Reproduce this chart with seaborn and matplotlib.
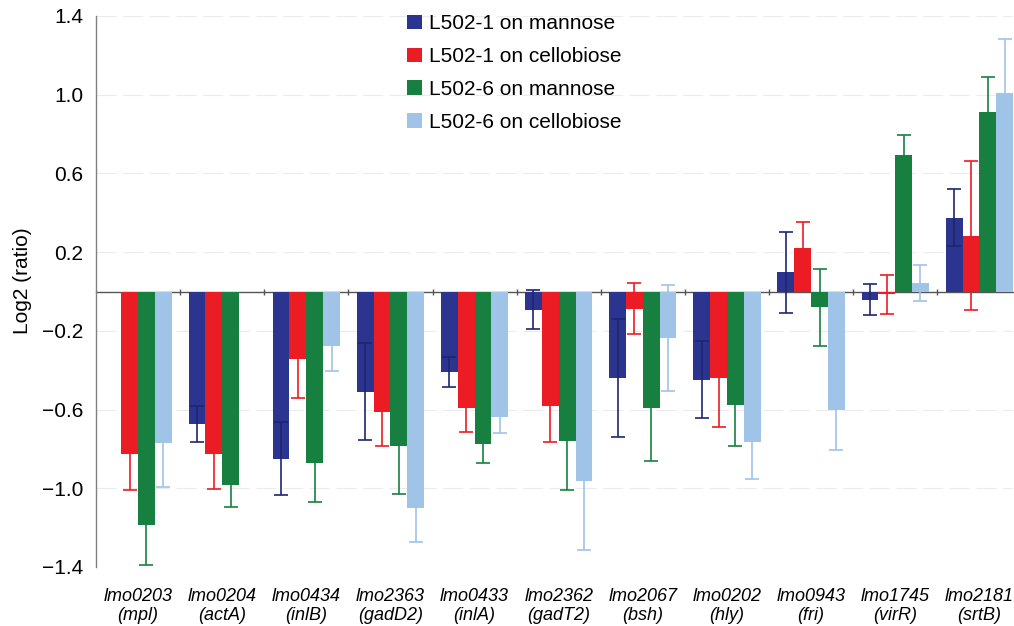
import numpy as np
import pandas as pd
import matplotlib
matplotlib.use('Agg')
import matplotlib.pyplot as plt
import seaborn as sns

# genes and their products (x axis)
genes = ['lmo0203', 'lmo0204', 'lmo0434', 'lmo2363', 'lmo0433', 'lmo2362',
         'lmo2067', 'lmo0202', 'lmo0943', 'lmo1745', 'lmo2181']
products = ['mpl', 'actA', 'inlB', 'gadD2', 'inlA', 'gadT2',
            'bsh', 'hly', 'fri', 'virR', 'srtB']

conditions = ['L502-1 on mannose', 'L502-1 on cellobiose',
              'L502-6 on mannose', 'L502-6 on cellobiose']

# log2 ratios (nan = no bar)
m1 = [np.nan, -0.674, -0.850, -0.509, -0.411, -0.093, -0.441, -0.448, 0.098, -0.042, 0.375]
c1 = [-0.827, -0.827, -0.343, -0.611, -0.591, -0.584, -0.087, -0.441, 0.220, -0.015, 0.284]
m6 = [-1.188, -0.983, -0.872, -0.787, -0.776, -0.759, -0.594, -0.575, -0.080, 0.692, 0.911]
c6 = [-0.772, np.nan, -0.278, -1.098, -0.640, -0.962, -0.238, -0.765, -0.601, 0.044, 1.010]

# error bar half lengths
m1_err = [np.nan, 0.09, 0.185, 0.247, 0.076, 0.10, 0.30, 0.195, 0.205, 0.078, 0.145]
c1_err = [0.18, 0.176, 0.20, 0.173, 0.125, 0.18, 0.13, 0.246, 0.133, 0.10, 0.38]
m6_err = [0.20, 0.11, 0.20, 0.243, 0.093, 0.25, 0.266, 0.21, 0.196, 0.103, 0.18]
c6_err = [0.22, np.nan, 0.125, 0.173, 0.081, 0.35, 0.27, 0.19, 0.205, 0.09, 0.273]

colors = ['#2b3590', '#ec1c24', '#178041', '#a0c4e8']
err_colors = ['#1e2670', '#ec1c24', '#178041', '#a0c4e8']

values = [m1, c1, m6, c6]
errors = [m1_err, c1_err, m6_err, c6_err]

# long format table for seaborn
rows = []
for cond, vals in zip(conditions, values):
    for g, v in zip(genes, vals):
        rows.append({'gene': g, 'condition': cond, 'value': v})
df = pd.DataFrame(rows)
df['value'] = df['value'].fillna(0.0)

sns.set_style('white')
plt.rcParams['font.family'] = ['Liberation Sans', 'DejaVu Sans']
plt.rcParams['text.color'] = 'black'
plt.rcParams['xtick.color'] = 'black'
plt.rcParams['ytick.color'] = 'black'
plt.rcParams['axes.labelcolor'] = 'black'

fig = plt.figure(figsize=(10.14, 6.26), dpi=100)
ax = fig.add_axes([96 / 1014, 59 / 626, 917 / 1014, 551 / 626])

sns.barplot(data=df, x='gene', y='value', hue='condition', order=genes,
            hue_order=conditions, palette=colors, saturation=1, errorbar=None,
            linewidth=0, width=0.8, ax=ax)

# error bars on top of every bar
for cont, errs, ec in zip(ax.containers, errors, err_colors):
    for bar, e in zip(cont.patches, errs):
        if np.isnan(e):
            continue
        xc = bar.get_x() + bar.get_width() / 2
        ax.errorbar(xc, bar.get_height(), yerr=e, color=ec, lw=1.2,
                    capsize=5, capthick=1.2, zorder=3)

ax.set_ylim(-1.4, 1.4)
ax.set_xlim(-0.5, 10.4)
ax.set_yticks(np.arange(-1.4, 1.41, 0.4))
ax.yaxis.grid(True, color='#ebebeb', linestyle=(0, (18, 6)), lw=0.8)
ax.set_axisbelow(True)

for s in ['top', 'right', 'bottom']:
    ax.spines[s].set_visible(False)
ax.spines['left'].set_color('#7f7f7f')
ax.spines['left'].set_linewidth(1)

ax.tick_params(axis='y', direction='out', length=5, color='#7f7f7f',
               labelsize=15, pad=4)
ax.set_xticks(range(len(genes)))
ax.set_xticklabels([f'{g}\n({p})' for g, p in zip(genes, products)],
                   fontstyle='italic', fontsize=13, linespacing=1.2)
ax.tick_params(axis='x', length=0, pad=15)
ax.set_xlabel('')
ax.set_ylabel('Log2 (ratio)', fontsize=15)
ax.yaxis.set_label_coords(-0.070, 0.52)

# zero line with small ticks between gene groups
zero = ax.secondary_xaxis(0, transform=ax.transData)
zero.set_xticks(np.arange(0.5, len(genes) - 1, 1))
zero.set_xticklabels([])
zero.tick_params(direction='inout', length=5, color='#555555', width=1)
zero.spines['bottom'].set_color('#555555')
zero.spines['bottom'].set_linewidth(1)

handles, labels = ax.get_legend_handles_labels()
ax.legend(handles, labels, loc='upper left', bbox_to_anchor=(407 / 1014, 0.977),
          bbox_transform=fig.transFigure, frameon=False, fontsize=15,
          handlelength=0.7, handleheight=0.7, handletextpad=0.35,
          labelspacing=0.66, borderpad=0, borderaxespad=0)

fig.savefig('out.png', dpi=100)
